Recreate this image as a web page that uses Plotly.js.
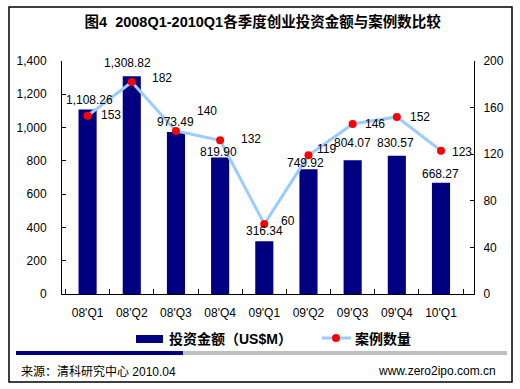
<!DOCTYPE html>
<html>
<head>
<meta charset="utf-8">
<script src="https://cdn.plot.ly/plotly-3.0.1.min.js"></script>
<style>html,body{margin:0;padding:0;background:#fff;}#chart{width:520px;height:389px;}</style>
</head>
<body>
<div id="chart"></div>
<script>
// ---- data ----
var quarters = ["08'Q1","08'Q2","08'Q3","08'Q4","09'Q1","09'Q2","09'Q3","09'Q4","10'Q1"];
var amounts = [1108.26, 1308.82, 973.49, 819.90, 316.34, 749.92, 804.07, 830.57, 668.27];
var counts = [153, 182, 140, 132, 60, 119, 146, 152, 123];
var leftTicks = [0, 200, 400, 600, 800, 1000, 1200, 1400];
var rightTicks = [0, 40, 80, 120, 160, 200];
var amountName = "投资金额（US$M）";
var countName = "案例数量";
var titleText = "图4  2008Q1-2010Q1各季度创业投资金额与案例数比较";
var sourceText = "来源：清科研究中心 2010.04";
var siteText = "www.zero2ipo.com.cn";

// ---- label offsets (style) ----
var barLabelShift = [[2,10],[-4,13],[0,10],[-2,6],[0,10],[-3,6],[0,17],[-1,13],[-1,9]];
var countLabelShift = [[11,1],[18,4],[19,20],[19,1],[15,3],[7,6],[10,0],[11,0],[9,-1]];

var L = 62, R = 474, T = 61, B = 294, W = 520, H = 389;
function px(x){ return (x - L) / (R - L); }
function py(y){ return (B - y) / (B - T); }

var numFont = {family: "Liberation Sans, Arial, sans-serif", size: 12, color: "#000"};
var cjkBold = {family: "Liberation Sans, Noto Sans CJK SC, sans-serif", size: 14, color: "#000", weight: "bold"};

var traces = [
  {type: "bar", x: quarters, y: amounts, name: amountName, marker: {color: "#000080"},
   yaxis: "y", hoverinfo: "none", showlegend: false},
  {type: "scatter", mode: "lines+markers", x: quarters, y: counts, name: countName, yaxis: "y2",
   line: {color: "#99CCFF", width: 3}, marker: {color: "#FF0000", size: 8},
   hoverinfo: "none", showlegend: false}
];

var annotations = [];
quarters.forEach(function(q, i){
  annotations.push({x: q, y: amounts[i], xref: "x", yref: "y",
    text: amounts[i].toLocaleString("en-US", {minimumFractionDigits: 2, maximumFractionDigits: 2}),
    showarrow: false, xanchor: "center", yanchor: "middle",
    xshift: barLabelShift[i][0], yshift: barLabelShift[i][1], font: numFont});
  annotations.push({x: q, y: counts[i], xref: "x", yref: "y2",
    text: String(counts[i]), showarrow: false, xanchor: "left", yanchor: "middle",
    xshift: countLabelShift[i][0], yshift: countLabelShift[i][1], font: numFont});
});
// legend texts
annotations.push({xref: "paper", yref: "paper", x: px(167), y: py(339), text: amountName,
  showarrow: false, xanchor: "left", yanchor: "middle", font: cjkBold});
annotations.push({xref: "paper", yref: "paper", x: px(353), y: py(339), text: countName,
  showarrow: false, xanchor: "left", yanchor: "middle", font: cjkBold});
// footer texts
annotations.push({xref: "paper", yref: "paper", x: px(19), y: py(371), text: sourceText,
  showarrow: false, xanchor: "left", yanchor: "middle",
  font: {family: "Liberation Sans, Noto Sans CJK SC, sans-serif", size: 12, color: "#000"}});
annotations.push({xref: "paper", yref: "paper", x: px(498), y: py(371), text: siteText,
  showarrow: false, xanchor: "right", yanchor: "middle",
  font: {family: "Liberation Sans, Arial, sans-serif", size: 12, color: "#000"}});

var shapes = [
  {type: "rect", xref: "paper", yref: "paper", x0: px(9), x1: px(512), y0: py(7), y1: py(382),
   line: {color: "#000", width: 1.5}, fillcolor: "rgba(0,0,0,0)"},
  {type: "rect", xref: "paper", yref: "paper", x0: px(136), x1: px(163), y0: py(335), y1: py(343),
   line: {width: 0}, fillcolor: "#000080"},
  {type: "line", xref: "paper", yref: "paper", x0: px(322), x1: px(351), y0: py(338), y1: py(338),
   line: {color: "#99CCFF", width: 3}},
  {type: "circle", xref: "paper", yref: "paper", x0: px(332), x1: px(340), y0: py(334), y1: py(342),
   line: {width: 0}, fillcolor: "#FF0000"},
  {type: "rect", xref: "paper", yref: "paper", x0: px(16), x1: px(183), y0: py(351), y1: py(355),
   line: {width: 0}, fillcolor: "#000080"},
  {type: "rect", xref: "paper", yref: "paper", x0: px(183), x1: px(507), y0: py(351), y1: py(355),
   line: {width: 0}, fillcolor: "#BFBFBF"}
];

var layout = {
  width: W, height: H,
  margin: {l: L, r: W - R, t: T, b: H - B, pad: 0},
  paper_bgcolor: "#fff", plot_bgcolor: "#fff",
  title: {text: titleText, x: 0.505, xanchor: "center", y: 1 - 22 / H, yanchor: "middle",
    font: {family: "Liberation Sans, Noto Sans CJK SC, sans-serif", size: 14.5, color: "#000", weight: "bold"}},
  bargap: 0.59,
  xaxis: {type: "category", showline: true, linecolor: "#000", linewidth: 1,
    ticks: "inside", ticklen: 5, tickcolor: "#000", tickson: "boundaries",
    showgrid: false, zeroline: false, tickfont: numFont, ticklabelstandoff: 8, fixedrange: true},
  yaxis: {range: [0, 1400], tickvals: leftTicks, tickformat: ",d", showline: true, linecolor: "#000",
    ticks: "inside", ticklen: 4, tickcolor: "#000", showgrid: false, zeroline: false,
    tickfont: numFont, ticklabelstandoff: 12, fixedrange: true},
  yaxis2: {range: [0, 200], tickvals: rightTicks, overlaying: "y", side: "right", showline: true,
    linecolor: "#000", ticks: "inside", ticklen: 4, tickcolor: "#000", showgrid: false, zeroline: false,
    tickfont: numFont, ticklabelstandoff: 6, fixedrange: true},
  annotations: annotations,
  shapes: shapes,
  showlegend: false
};

Plotly.newPlot("chart", traces, layout, {displayModeBar: false, staticPlot: true});
</script>
</body>
</html>
